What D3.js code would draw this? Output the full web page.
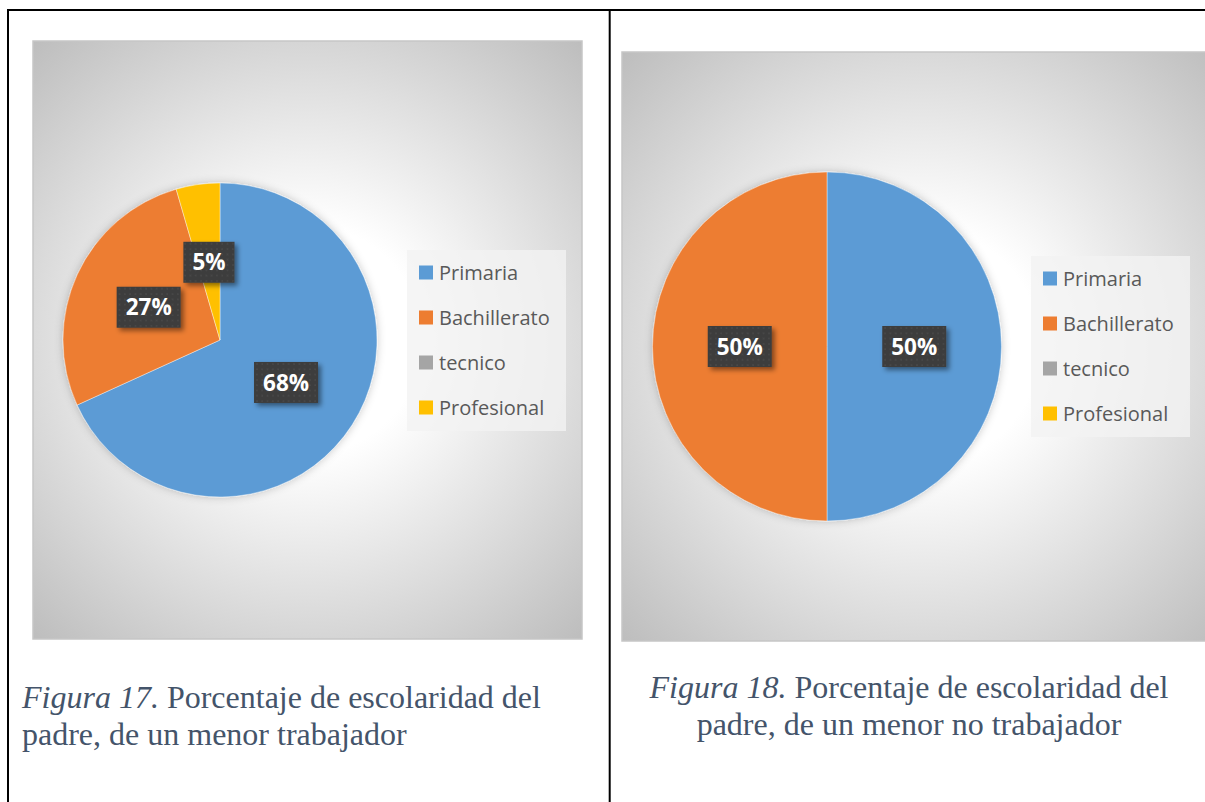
<!DOCTYPE html>
<html>
<head>
<meta charset="utf-8">
<script src="https://cdn.jsdelivr.net/npm/d3@7"></script>
<style>
  body { margin: 0; background: #fff; }
  svg { display: block; }
</style>
</head>
<body>
<script>
// data (percent, labels are rounded)
var categories = ["Primaria", "Bachillerato", "tecnico", "Profesional"]
var colors = ["#5B9BD5", "#ED7D31", "#A5A5A5", "#FFC000"]
var trabajador = [68.2, 27.3, 0, 4.5]
var noTrabajador = [50, 50, 0, 0]
var captionItalic = ["Figura 17.", "Figura 18."]
var captionRest = [
    [" Porcentaje de escolaridad del", "padre, de un menor trabajador"],
    [" Porcentaje de escolaridad del", "padre, de un menor no trabajador"]
]

var svg = d3.select("body").append("svg")
    .attr("width", 1205)
    .attr("height", 802)

var defs = svg.append("defs")

// dotted dark fill of the data labels
var pat = defs.append("pattern")
    .attr("id", "dots")
    .attr("patternUnits", "userSpaceOnUse")
    .attr("width", 5.3)
    .attr("height", 5.3)
pat.append("rect").attr("width", 5.3).attr("height", 5.3).attr("fill", "#3e3e3e")
pat.append("rect").attr("x", 2).attr("y", 2).attr("width", 1.4).attr("height", 1.4).attr("fill", "#4b4b4b")

var lblShadow = defs.append("filter").attr("id", "lblShadow")
    .attr("x", "-30%").attr("y", "-30%").attr("width", "170%").attr("height", "170%")
lblShadow.append("feDropShadow")
    .attr("dx", 3).attr("dy", 3).attr("stdDeviation", 2.5)
    .attr("flood-color", "#000").attr("flood-opacity", 0.45)

var pieShadow = defs.append("filter").attr("id", "pieShadow")
    .attr("x", "-20%").attr("y", "-20%").attr("width", "140%").attr("height", "140%")
pieShadow.append("feDropShadow")
    .attr("dx", 0).attr("dy", 0).attr("stdDeviation", 4)
    .attr("flood-color", "#000").attr("flood-opacity", 0.22)

// table lines
svg.append("g").selectAll("line")
    .data([[7, 10, 1205, 10], [8, 9, 8, 802], [609.7, 9, 609.7, 802]])
    .join("line")
    .attr("x1", d => d[0]).attr("y1", d => d[1])
    .attr("x2", d => d[2]).attr("y2", d => d[3])
    .attr("stroke", "#000").attr("stroke-width", 2)

var charts = [
    {values: trabajador, panel: [33, 41, 549, 598], cx: 220, cy: 340, r: 157, legend: [407, 250]},
    {values: noTrabajador, panel: [622, 52, 600, 589], cx: 827, cy: 346.5, r: 174.5, legend: [1031, 256]}
]

charts.forEach(function(c, k) {
    var [px, py, pw, ph] = c.panel

    var grad = defs.append("radialGradient")
        .attr("id", "bg" + k)
        .attr("gradientUnits", "userSpaceOnUse")
        .attr("cx", px + pw / 2).attr("cy", py + ph / 2)
        .attr("r", Math.sqrt(pw * pw + ph * ph) / 2)
    grad.append("stop").attr("offset", 0).attr("stop-color", "#ffffff")
    grad.append("stop").attr("offset", 0.28).attr("stop-color", "#ffffff")
    grad.append("stop").attr("offset", 1).attr("stop-color", "#bdbdbd")

    var g = svg.append("g")

    g.append("rect")
        .attr("x", px).attr("y", py)
        .attr("width", pw).attr("height", ph)
        .attr("fill", "url(#bg" + k + ")")
        .attr("stroke", "#c6c6c6")
        .attr("stroke-width", 1.5)

    var pie = d3.pie().sort(null).value(d => d)
    var arcs = pie(c.values)
    var arc = d3.arc().innerRadius(0).outerRadius(c.r)

    var pg = g.append("g")
        .attr("transform", `translate(${c.cx},${c.cy})`)

    pg.append("g")
        .attr("filter", "url(#pieShadow)")
        .selectAll("path")
        .data(arcs.filter(d => d.value > 0))
        .join("path")
        .attr("d", arc)
        .attr("fill", d => colors[d.index])
        .attr("stroke", "#ffffff")
        .attr("stroke-opacity", 0.5)
        .attr("stroke-width", 0.8)

    // data labels
    var lbl = pg.selectAll("g.lbl")
        .data(arcs.filter(d => d.value > 0))
        .join("g")
        .attr("class", "lbl")
        .attr("transform", d => `translate(${arc.centroid(d)})`)

    lbl.append("rect").attr("filter", "url(#lblShadow)")
    lbl.append("text")
        .attr("text-anchor", "middle")
        .attr("dy", "0.36em")
        .attr("fill", "#ffffff")
        .style("font-family", "'Open Sans', sans-serif")
        .style("font-weight", 700)
        .style("font-size", "22.5px")
        .text(d => Math.round(d.value) + "%")

    lbl.each(function() {
        var t = d3.select(this).select("text").node()
        var w = t.getComputedTextLength() + 18
        d3.select(this).select("rect")
            .attr("x", -w / 2).attr("y", -20.5)
            .attr("width", w).attr("height", 41)
            .attr("fill", "url(#dots)")
    })

    // legend
    var [lx, ly] = c.legend
    var lg = g.append("g").attr("transform", `translate(${lx},${ly})`)
    lg.append("rect")
        .attr("width", 159).attr("height", 181)
        .attr("fill", "#f2f2f2").attr("fill-opacity", 0.8)

    var item = lg.selectAll("g.item")
        .data(categories)
        .join("g")
        .attr("class", "item")
        .attr("transform", (d, i) => `translate(12,${22.5 + i * 45})`)

    item.append("rect")
        .attr("y", -7).attr("width", 14).attr("height", 14)
        .attr("fill", (d, i) => colors[i])

    item.append("text")
        .attr("x", 20)
        .attr("dy", "0.36em")
        .attr("fill", "#595959")
        .style("font-family", "'Open Sans', sans-serif")
        .style("font-size", "20px")
        .text(d => d)
})

// captions under each chart
var capSpecs = [
    {x: 22, y: 708, anchor: "start"},
    {x: 909, y: 698, anchor: "middle"}
]
capSpecs.forEach(function(s, k) {
    var t = svg.append("text")
        .attr("x", s.x).attr("y", s.y)
        .attr("text-anchor", s.anchor)
        .attr("fill", "#44546A")
        .style("font-family", "'Liberation Serif', 'Times New Roman', serif")
        .style("font-size", "32px")
    t.append("tspan").style("font-style", "italic").text(captionItalic[k])
    t.append("tspan").text(captionRest[k][0])
    t.append("tspan").attr("x", s.x).attr("dy", 37).text(captionRest[k][1])
})
</script>
</body>
</html>
